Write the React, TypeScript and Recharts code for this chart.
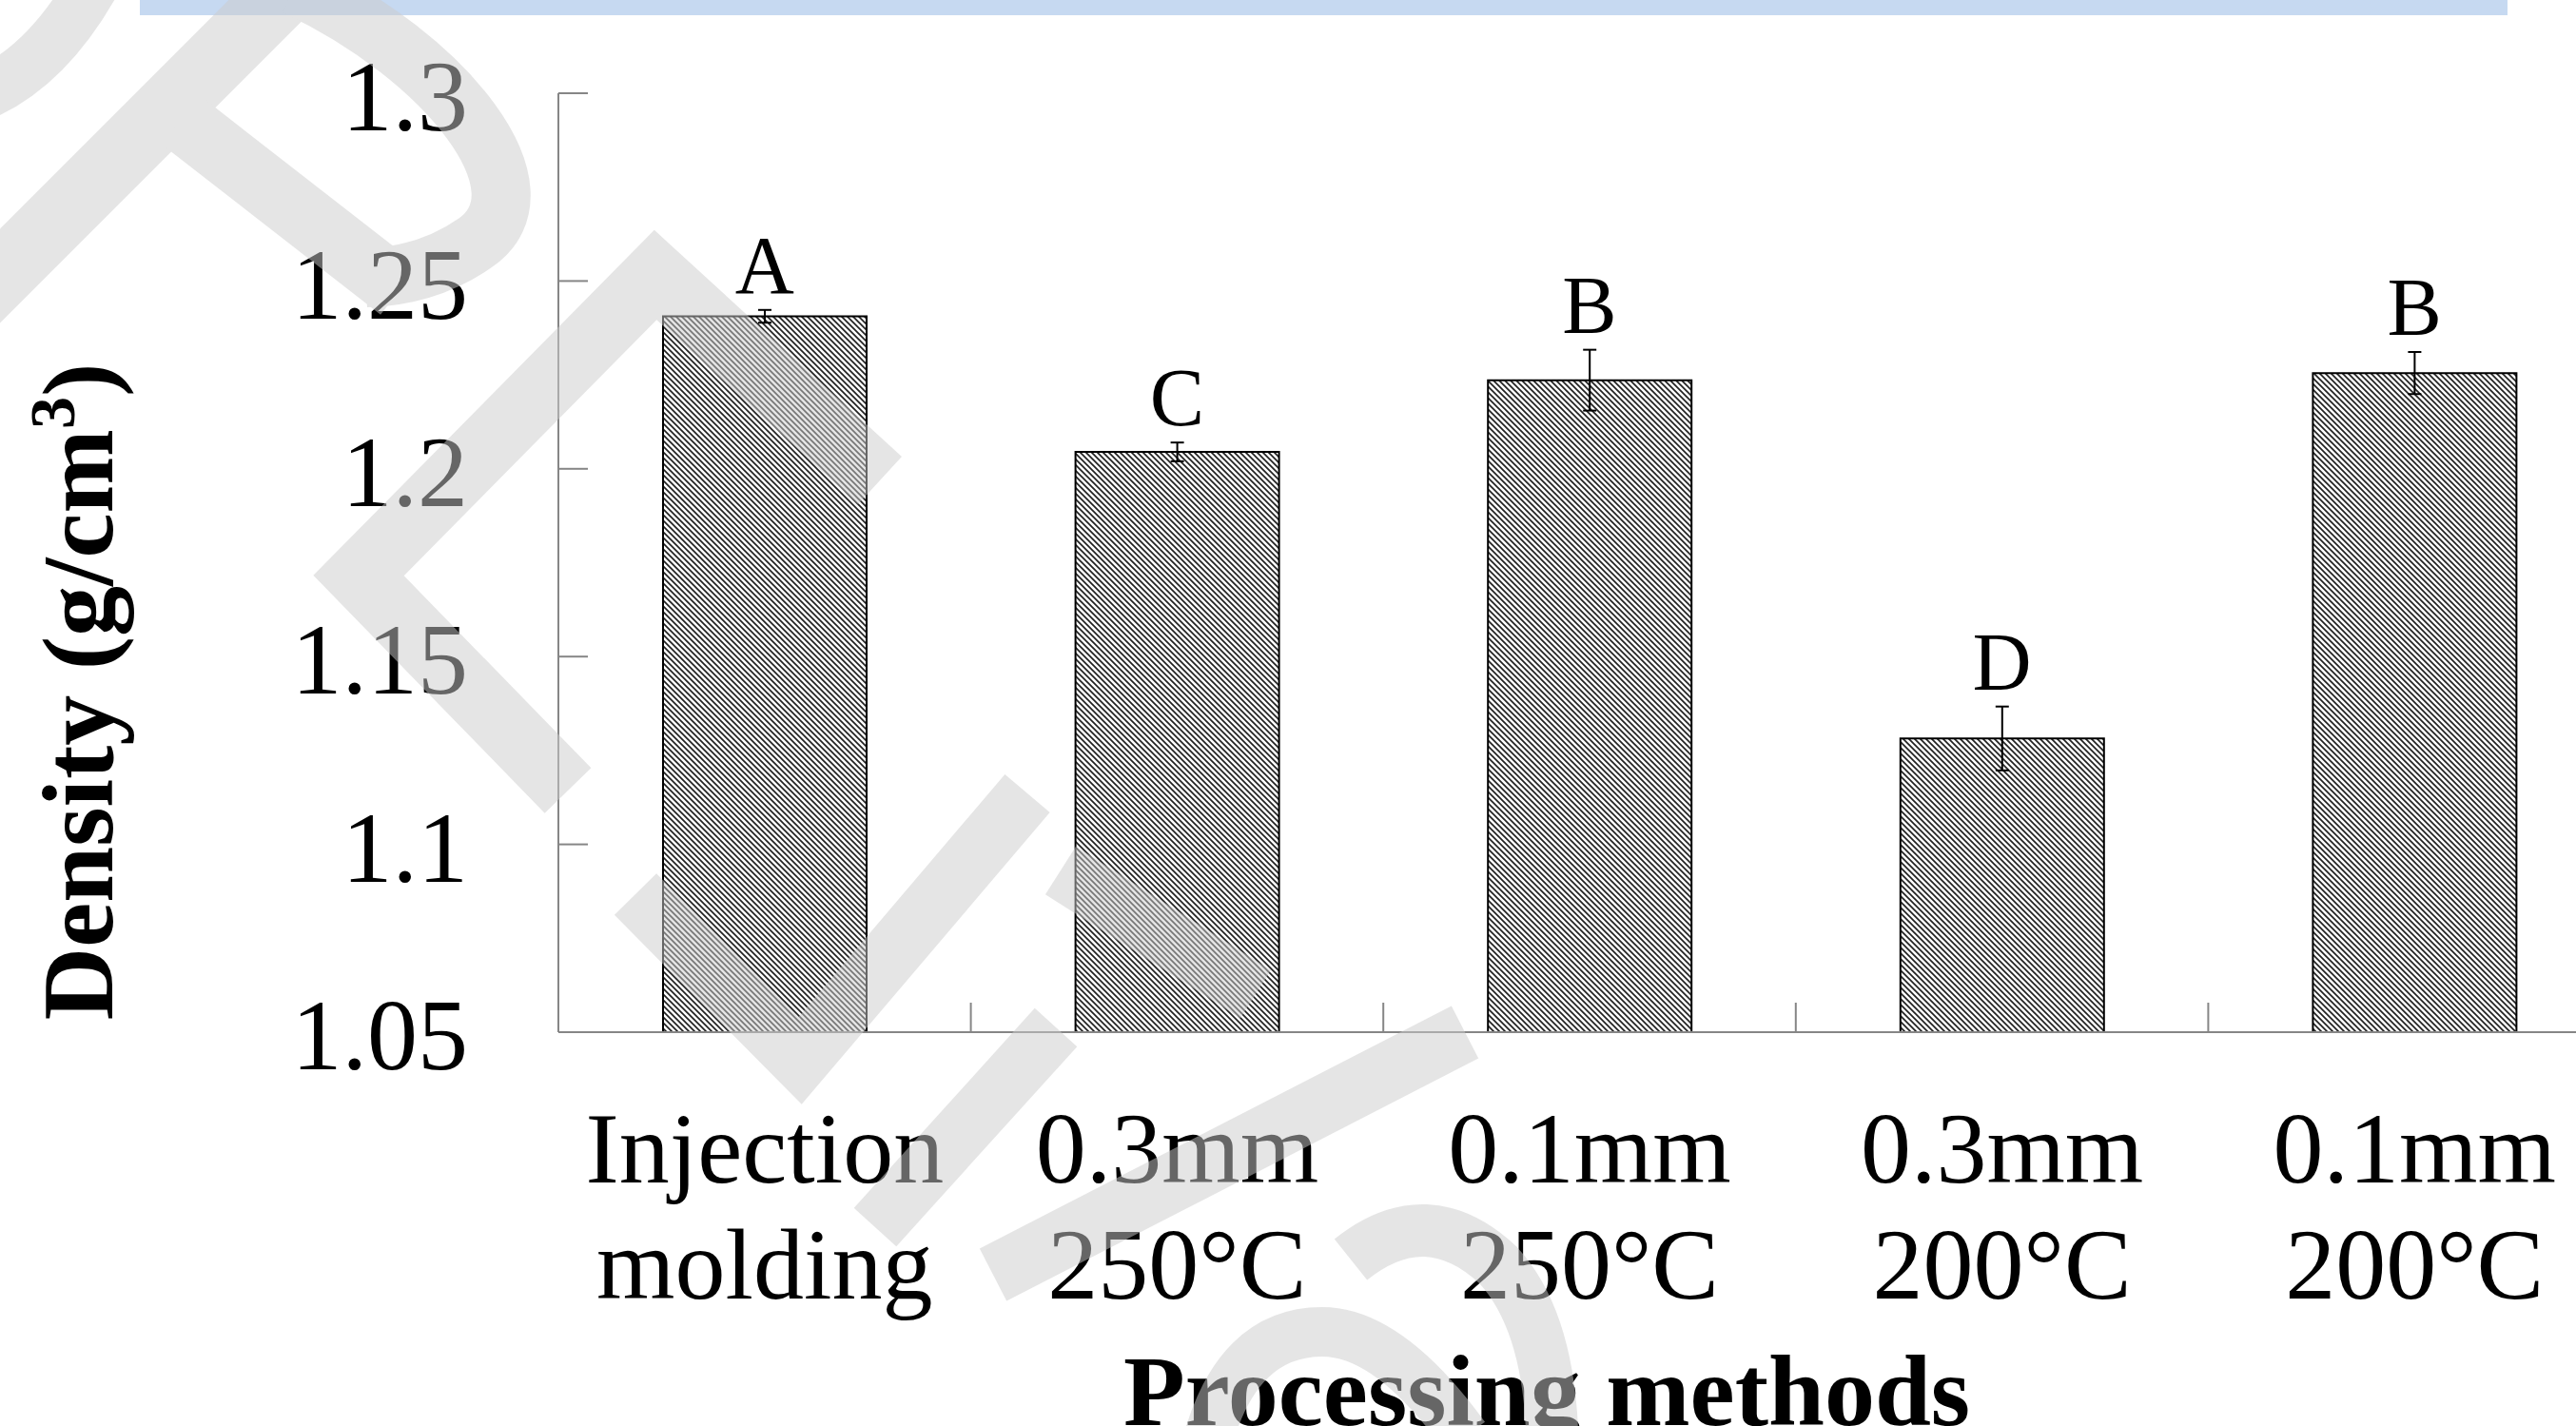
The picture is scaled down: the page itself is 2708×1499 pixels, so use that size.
import React from 'react'
import { BarChart, Bar, XAxis, YAxis, ErrorBar, ReferenceDot } from 'recharts'

// processing methods (two-line labels split on the first space)
const methods = ['Injection molding', '0.3mm 250°C', '0.1mm 250°C', '0.3mm 200°C', '0.1mm 200°C']
const density = [1.2406, 1.2045, 1.2236, 1.1282, 1.2255]
const densityErr = [0.0017, 0.0025, 0.0081, 0.0085, 0.0056]
const groups = ['A', 'C', 'B', 'D', 'B']
const yTicks = [1.05, 1.1, 1.15, 1.2, 1.25, 1.3]

const data = methods.map((method, i) => ({
  method,
  density: density[i],
  err: densityErr[i]
}))

const FONT = '"Liberation Serif", "Times New Roman", serif'
const CHART_W = 2760
const CHART_H = 1499
const MARGIN = { top: 98, right: 5, bottom: 0, left: 0 }
const Y_AXIS_W = 587
const X_AXIS_H = 414
const BAND = (CHART_W - MARGIN.left - MARGIN.right - Y_AXIS_W) / methods.length
const AXIS_GREY = '#868686'

const YTick = (props: any) => {
  const { x, y, payload } = props
  return (
    <g>
      <line x1={x} x2={x + 31} y1={y} y2={y} stroke={AXIS_GREY} strokeWidth={2} />
      <text x={x - 95} y={y} dy='0.37em' textAnchor='end' fontFamily={FONT} fontSize={106} fill='#000'>
        {String(payload.value)}
      </text>
    </g>
  )
}

const XTick = (props: any) => {
  const { x, y, payload } = props
  const label: string = payload.value
  const cut = label.indexOf(' ')
  return (
    <g>
      <line x1={x + BAND / 2} x2={x + BAND / 2} y1={y} y2={y - 31} stroke={AXIS_GREY} strokeWidth={2} />
      <text textAnchor='middle' fontFamily={FONT} fontSize={106} fill='#000'>
        <tspan x={x} y={y + 158}>{label.slice(0, cut)}</tspan>
        <tspan x={x} y={y + 280}>{label.slice(cut + 1)}</tspan>
      </text>
    </g>
  )
}

const YTitle = () => (
  <text
    transform='translate(118, 727) rotate(-90)'
    textAnchor='middle'
    fontFamily={FONT}
    fontSize={106}
    fontWeight='bold'
    fill='#000'
  >
    Density (g/cm
    <tspan fontSize={68} dy={-40}>3</tspan>
    <tspan dy={40}>)</tspan>
  </text>
)

const XTitle = () => (
  <text x={1626} y={1498} textAnchor='middle' fontFamily={FONT} fontSize={106} fontWeight='bold' fill='#000'>
    Processing methods
  </text>
)

// faint watermark strokes lying over the figure
const watermark = [
  { d: 'M -20 100 Q 50 70 100 -20', w: 55 },
  { d: 'M -25 315 L 320 -30', w: 70 },
  { d: 'M 310 -15 C 470 60 580 200 500 255 Q 450 290 385 292', w: 62 },
  { d: 'M 190 126 L 420 305', w: 65 },
  { d: 'M 925 505 L 689 289 L 377 605 L 597 831', w: 68 },
  { d: 'M 668 940 L 841 1115 L 1080 834', w: 62 },
  { d: 'M 920 1290 L 1110 1080', w: 60 },
  { d: 'M 1115 915 L 1320 1045', w: 60 },
  { d: 'M 1044 1340 L 1540 1085', w: 62 },
  { d: 'M 1420 1324 Q 1500 1260 1575 1330 Q 1630 1390 1632 1520', w: 55 },
  { d: 'M 1268 1520 Q 1300 1400 1390 1400 Q 1460 1400 1540 1510', w: 52 }
]

export default function App() {
  return (
    <div
      style={{
        position: 'fixed',
        left: 0,
        top: 0,
        width: 2708,
        height: 1499,
        overflow: 'hidden',
        background: '#fff'
      }}
    >
      <svg width={0} height={0} style={{ position: 'absolute' }}>
        <defs>
          <pattern id='hatch' patternUnits='userSpaceOnUse' width={6} height={6}>
            <rect width={6} height={6} fill='#fff' />
            <path d='M -1 -1 L 7 7 M -1 5 L 1 7 M 5 -1 L 7 1' stroke='#222' strokeWidth={1.7} />
          </pattern>
        </defs>
      </svg>
      <svg width={2708} height={1499} style={{ position: 'absolute', left: 0, top: 0 }}>
        <rect x={147} y={0} width={2489} height={16} fill='#c6d9f1' />
      </svg>
      <div style={{ position: 'absolute', left: 0, top: 0 }}>
        <BarChart width={CHART_W} height={CHART_H} data={data} margin={MARGIN}>
          <XAxis
            dataKey='method'
            height={X_AXIS_H}
            axisLine={{ stroke: AXIS_GREY, strokeWidth: 2 }}
            tickLine={false}
            tickSize={0}
            tickMargin={0}
            interval={0}
            tick={<XTick />}
            label={XTitle}
          />
          <YAxis
            width={Y_AXIS_W}
            domain={[1.05, 1.3]}
            ticks={yTicks}
            allowDataOverflow
            axisLine={{ stroke: AXIS_GREY, strokeWidth: 2 }}
            tickLine={false}
            tickSize={0}
            tickMargin={0}
            tick={<YTick />}
            label={YTitle}
          />
          <Bar
            dataKey='density'
            fill='url(#hatch)'
            stroke='#000'
            strokeWidth={2}
            barSize={214}
            isAnimationActive={false}
          >
            <ErrorBar dataKey='err' width={7} stroke='#000' strokeWidth={2} direction='y' isAnimationActive={false} />
          </Bar>
          {data.map((d, i) => (
            <ReferenceDot
              key={i}
              x={d.method}
              y={d.density + d.err}
              r={0}
              fill='none'
              stroke='none'
              ifOverflow='visible'
              label={{
                value: groups[i],
                position: 'top',
                offset: 18,
                fontFamily: FONT,
                fontSize: 86,
                fill: '#000'
              }}
            />
          ))}
        </BarChart>
      </div>
      <svg width={2708} height={1499} style={{ position: 'absolute', left: 0, top: 0, pointerEvents: 'none' }}>
        <g opacity={0.5}>
          {watermark.map((s, i) => (
            <path key={i} d={s.d} fill='none' stroke='#cccccc' strokeWidth={s.w} />
          ))}
        </g>
      </svg>
    </div>
  )
}
